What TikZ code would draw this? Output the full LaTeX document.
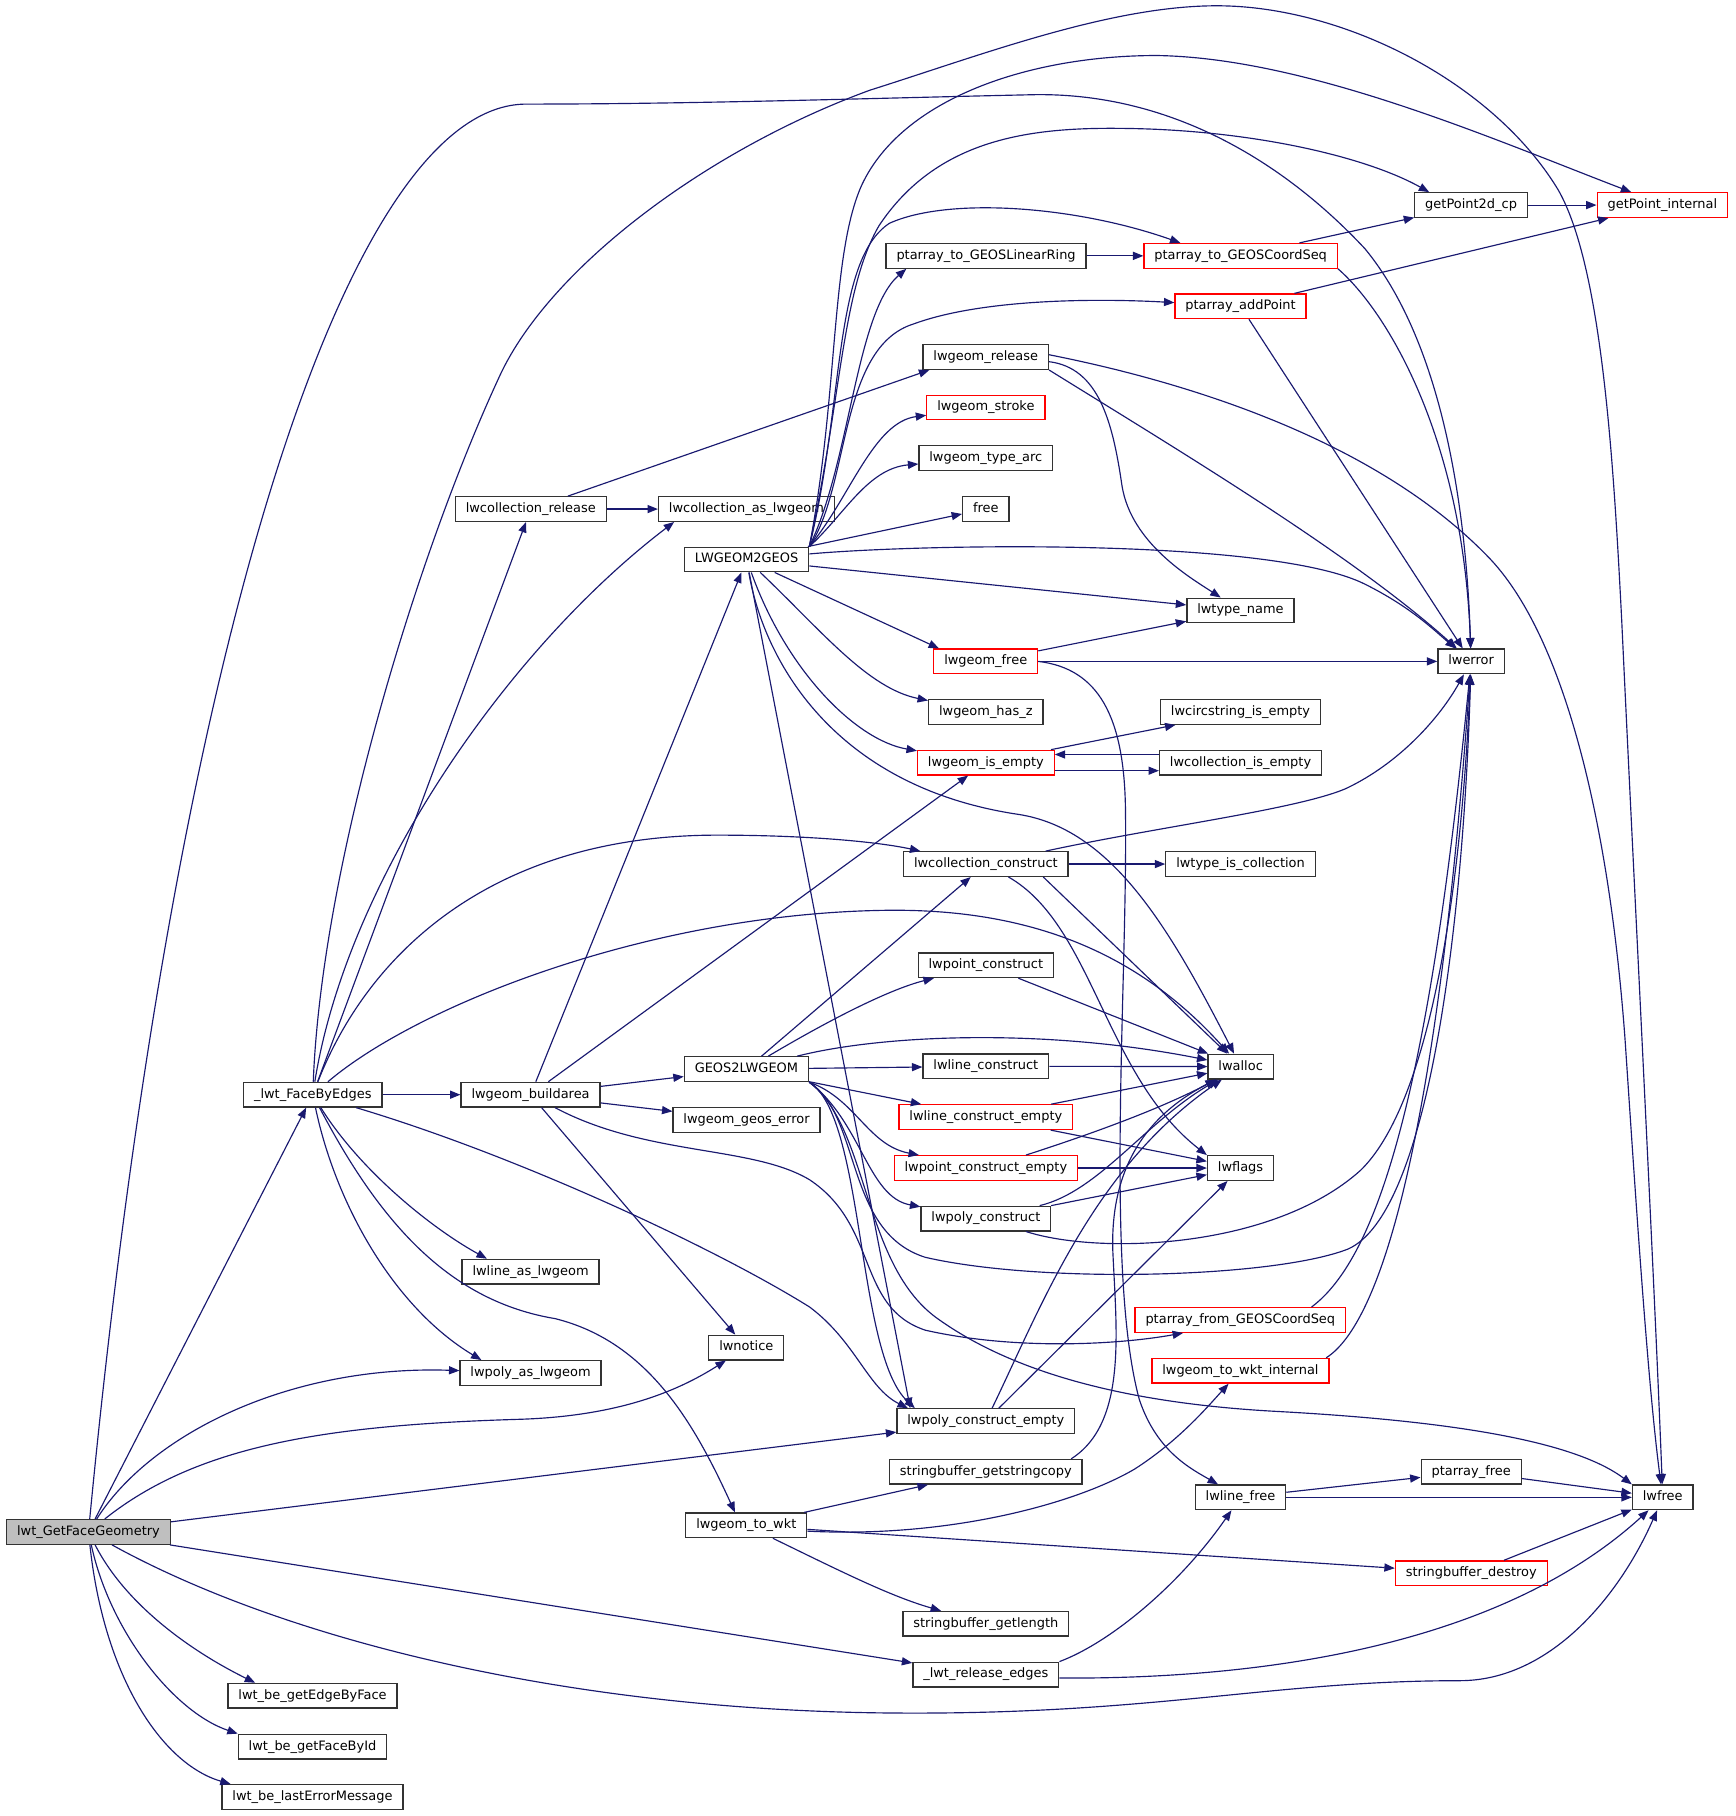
\documentclass[tikz,border=0pt]{standalone}
\usepackage{fontspec}
\setmainfont{DejaVu Sans}
\usetikzlibrary{arrows.meta}
\definecolor{navyblue}{HTML}{191970}
\definecolor{boxgray}{HTML}{BFBFBF}

\begin{document}
\begin{tikzpicture}[x=1pt,y=-1pt,>={Triangle[length=9pt,width=7pt]},
    fn/.style={rectangle,draw=black!80,line width=1.1pt,fill=white,inner xsep=9pt,inner ysep=5pt,
      text height=8.6pt,text depth=2.7pt,font=\fontsize{11.2pt}{13pt}\selectfont},
    fnred/.style={fn,draw=red},
    fnroot/.style={fn,fill=boxgray},
    wire/.style={draw=navyblue,line width=1pt},
    every edge/.style={wire}]

  \fill[white] (0,0) rectangle (1500,1570);
  \useasboundingbox (0,0) rectangle (1500,1570);

  \node[fnroot] (root)       at (76.5,1324.4)  {lwt\_GetFaceGeometry};
  \node[fn]     (fbe)        at (270.4,946.4)  {\_lwt\_FaceByEdges};
  \node[fn]     (edgebyface) at (270.2,1466)   {lwt\_be\_getEdgeByFace};
  \node[fn]     (facebyid)   at (270.2,1510)   {lwt\_be\_getFaceById};
  \node[fn]     (lasterr)    at (270.2,1553.6) {lwt\_be\_lastErrorMessage};
  \node[fn]     (colrel)     at (458.9,440.1)  {lwcollection\_release};
  \node[fn]     (buildarea)  at (458.7,946.4)  {lwgeom\_buildarea};
  \node[fn]     (lineas)     at (458.7,1099.4) {lwline\_as\_lwgeom};
  \node[fn]     (polyas)     at (458.7,1187)   {lwpoly\_as\_lwgeom};
  \node[fn]     (colas)      at (645.3,440.1)  {lwcollection\_as\_lwgeom};
  \node[fn]     (l2g)        at (645.5,483.7)  {LWGEOM2GEOS};
  \node[fn]     (g2l)        at (645.3,924.3)  {GEOS2LWGEOM};
  \node[fn]     (geoserr)    at (645.4,968.3)  {lwgeom\_geos\_error};
  \node[fn]     (notice)     at (645.2,1165)   {lwnotice};
  \node[fn]     (towkt)      at (645.2,1318.7) {lwgeom\_to\_wkt};
  \node[fn]     (ring)       at (852.5,221.2)  {ptarray\_to\_GEOSLinearRing};
  \node[fn]     (release)    at (852.2,308.7)  {lwgeom\_release};
  \node[fnred]  (stroke)     at (852.3,352.3)  {lwgeom\_stroke};
  \node[fn]     (typearc)    at (852.3,396)    {lwgeom\_type\_arc};
  \node[fn]     (free)       at (852.3,440)    {free};
  \node[fnred]  (geomfree)   at (852.2,571.8)  {lwgeom\_free};
  \node[fn]     (hasz)       at (852.3,615.7)  {lwgeom\_has\_z};
  \node[fnred]  (isempty)    at (852.3,659.3)  {lwgeom\_is\_empty};
  \node[fn]     (colcons)    at (852.3,747)    {lwcollection\_construct};
  \node[fn]     (ptcons)     at (852.3,834.5)  {lwpoint\_construct};
  \node[fn]     (linecons)   at (852.3,921.8)  {lwline\_construct};
  \node[fnred]  (lineempty)  at (852.3,965.8)  {lwline\_construct\_empty};
  \node[fnred]  (ptempty)    at (852.3,1009.8) {lwpoint\_construct\_empty};
  \node[fn]     (polycons)   at (852.3,1053.5) {lwpoly\_construct};
  \node[fn]     (polyempty)  at (852.3,1228.6) {lwpoly\_construct\_empty};
  \node[fn]     (sbcopy)     at (852.3,1272.4) {stringbuffer\_getstringcopy};
  \node[fn]     (sblen)      at (852.3,1403.8) {stringbuffer\_getlength};
  \node[fn]     (reledges)   at (852.3,1447.7) {\_lwt\_release\_edges};
  \node[fnred]  (coordseq)   at (1072.6,221.2) {ptarray\_to\_GEOSCoordSeq};
  \node[fnred]  (addpoint)   at (1072.5,264.8) {ptarray\_addPoint};
  \node[fn]     (typename)   at (1072.4,527.8) {lwtype\_name};
  \node[fn]     (circempty)  at (1072.5,615.5) {lwcircstring\_is\_empty};
  \node[fn]     (colempty)   at (1072.5,659.3) {lwcollection\_is\_empty};
  \node[fn]     (iscol)      at (1072.5,747)   {lwtype\_is\_collection};
  \node[fn]     (alloc)      at (1072.6,922.1) {lwalloc};
  \node[fn]     (flags)      at (1072.5,1009.8) {lwflags};
  \node[fnred]  (fromseq)    at (1072.3,1141.2) {ptarray\_from\_GEOSCoordSeq};
  \node[fnred]  (wktint)     at (1072.4,1185.1) {lwgeom\_to\_wkt\_internal};
  \node[fn]     (linefree)   at (1072.4,1294.5) {lwline\_free};
  \node[fn]     (p2d)        at (1271.8,177.3) {getPoint2d\_cp};
  \node[fn]     (error)      at (1271.8,571.8) {lwerror};
  \node[fn]     (ptfree)     at (1271.9,1272.4) {ptarray\_free};
  \node[fnred]  (sbdestroy)  at (1272,1360.1)  {stringbuffer\_destroy};
  \node[fnred]  (ptint)      at (1437.2,177.3) {getPoint\_internal};
  \node[fn]     (lwfree)     at (1437.5,1294.5) {lwfree};

  \path[->] (root) edge (fbe)
    (root) edge (polyempty)
    (root) edge (reledges)
    (fbe) edge (buildarea)
    (fbe) edge (colrel)
    (buildarea) edge (l2g)
    (buildarea) edge (isempty)
    (buildarea) edge (g2l)
    (buildarea) edge (geoserr)
    (buildarea) edge (notice)
    (colrel) edge (colas)
    (colrel) edge ([xshift=6pt]release.south west)
    (l2g) edge (free)
    (l2g) edge (typename)
    (l2g) edge ([xshift=5pt]geomfree.north west)
    (l2g) edge ([xshift=12pt]polyempty.north west)
    (g2l) edge (colcons)
    (g2l) edge (linecons)
    (g2l) edge (lineempty)
    (colcons) edge (iscol)
    ([xshift=-22pt]colcons.south east) edge (alloc)
    (ptcons) edge (alloc)
    (linecons) edge (alloc)
    (lineempty) edge (alloc)
    (lineempty) edge (flags)
    (ptempty) edge (flags)
    (polycons) edge (flags)
    (polyempty) edge (flags)
    ([yshift=-7pt]isempty.east) edge ([yshift=-7pt]colempty.west)
    ([yshift=7pt]colempty.west) edge ([yshift=7pt]isempty.east)
    (isempty) edge (circempty)
    (geomfree) edge (typename)
    (geomfree) edge (error)
    (ring) edge (coordseq)
    (coordseq) edge (p2d)
    (p2d) edge (ptint)
    (addpoint) edge (ptint)
    (addpoint) edge (error)
    (towkt) edge (sbcopy)
    (towkt) edge (sbdestroy)
    (linefree) edge (ptfree)
    (linefree) edge (lwfree)
    (ptfree) edge (lwfree)
    (sbdestroy) edge (lwfree);

  \draw[->,wire] (root) .. controls (150,560) and (300,90) .. (455,90)
    .. controls (600,90) and (750,85) .. (888,82)
    .. controls (1010,78) and (1110,140) .. (1180,215)
    .. controls (1250,300) and (1268,450) .. (error);
  \draw[->,wire] (root) .. controls (130,1240) and (250,1180) .. (polyas);
  \draw[->,wire] (root) .. controls (170,1250) and (280,1232) .. (450,1227)
    .. controls (540,1224) and (590,1200) .. (notice);
  \draw[->,wire] (root) .. controls (250,1420) and (500,1480) .. (780,1481)
    .. controls (1000,1482) and (1100,1453) .. (1262,1453)
    .. controls (1340,1453) and (1400,1380) .. (lwfree);
  \draw[->,wire] (root) .. controls (110,1390) and (170,1430) .. ([xshift=24pt]edgebyface.north west);
  \draw[->,wire] (root) .. controls (95,1410) and (150,1480) .. (facebyid.north west);
  \draw[->,wire] (root) .. controls (90,1450) and (140,1525) .. ([xshift=8pt]lasterr.north west);

  \draw[->,wire] (fbe) .. controls (300,760) and (440,560) .. ([xshift=14pt]colas.south west);
  \draw[->,wire] (fbe) .. controls (320,820) and (430,722) .. (620,722)
    .. controls (700,722) and (760,728) .. ([xshift=15pt]colcons.north west);
  \draw[->,wire] (fbe) .. controls (360,870) and (560,790) .. (765,787)
    .. controls (900,785) and (990,830) .. (alloc);
  \draw[->,wire] (fbe) .. controls (278,750) and (360,480) .. (432,325)
    .. controls (475,232) and (610,130) .. (752,78)
    .. controls (850,47) and (960,5) .. (1052,5)
    .. controls (1160,5) and (1290,70) .. (1347,164)
    .. controls (1385,230) and (1395,400) .. (1402,536)
    .. controls (1412,750) and (1430,1100) .. (lwfree);
  \draw[->,wire] (fbe) .. controls (310,1010) and (370,1060) .. ([xshift=22pt]lineas.north west);
  \draw[->,wire] (fbe) .. controls (290,1040) and (340,1130) .. ([xshift=19pt]polyas.north west);
  \draw[->,wire] (fbe) .. controls (330,1060) and (390,1125) .. (480,1140)
    .. controls (560,1160) and (600,1230) .. ([xshift=43pt]towkt.north west);
  \draw[->,wire] (fbe) .. controls (450,1000) and (620,1080) .. (700,1130)
    .. controls (740,1160) and (750,1200) .. ([xshift=10pt]polyempty.north west);

  \draw[->,wire] (buildarea) .. controls (560,1000) and (650,990) .. (700,1020)
    .. controls (760,1060) and (740,1130) .. (800,1150)
    .. controls (880,1168) and (970,1162) .. ([xshift=42pt]fromseq.south west);

  \draw[->,wire] (l2g.north east) .. controls (730,445) and (750,405) .. (typearc);
  \draw[->,wire] (l2g.north east) .. controls (735,430) and (755,365) .. (stroke);
  \draw[->,wire] (l2g.north east) .. controls (735,420) and (725,300) .. (790,280)
    .. controls (850,258) and (950,258) .. (addpoint);
  \draw[->,wire] (l2g.north east) .. controls (735,400) and (740,270) .. ([xshift=18pt]ring.south west);
  \draw[->,wire] (l2g.north east) .. controls (730,350) and (720,225) .. (769,193)
    .. controls (820,170) and (930,178) .. ([xshift=32pt]coordseq.north west);
  \draw[->,wire] (l2g.north east) .. controls (728,340) and (728,250) .. (760,195)
    .. controls (810,120) and (890,110) .. (970,111)
    .. controls (1080,112) and (1180,135) .. ([xshift=13pt]p2d.north west);
  \draw[->,wire] (l2g.north east) .. controls (725,340) and (718,220) .. (745,160)
    .. controls (780,85) and (890,48) .. (1000,48)
    .. controls (1130,50) and (1290,120) .. ([xshift=30pt]ptint.north west);
  \draw[->,wire] (l2g) .. controls (800,470) and (1100,465) .. (1180,505)
    .. controls (1220,525) and (1240,545) .. (error);
  \draw[->,wire] (l2g) .. controls (710,545) and (750,595) .. (hasz);
  \draw[->,wire] (l2g) .. controls (680,580) and (740,640) .. (isempty);
  \draw[->,wire] (l2g) .. controls (660,570) and (720,680) .. (880,704)
    .. controls (960,716) and (1010,800) .. (alloc);

  \draw[->,wire] (g2l) .. controls (720,880) and (770,855) .. (ptcons);
  \draw[->,wire] (g2l) .. controls (760,895) and (900,888) .. (alloc);
  \draw[->,wire] (g2l.south east) .. controls (740,950) and (750,990) .. (ptempty);
  \draw[->,wire] (g2l.south east) .. controls (745,970) and (750,1035) .. (polycons);
  \draw[->,wire] (g2l.south east) .. controls (748,965) and (740,1170) .. ([xshift=16pt]polyempty.north west);
  \draw[->,wire] (g2l.south east) .. controls (745,965) and (730,1065) .. (800,1087)
    .. controls (900,1110) and (1100,1105) .. (1165,1080)
    .. controls (1235,1050) and (1265,800) .. (error);
  \draw[->,wire] (g2l.south east) .. controls (752,975) and (745,1095) .. (812,1141)
    .. controls (870,1182) and (960,1212) .. (1100,1220)
    .. controls (1250,1228) and (1360,1245) .. (lwfree.north west);

  \draw[->,wire] ([yshift=-4pt]release.east) .. controls (950,318) and (962,365) .. (970,420)
    .. controls (978,470) and (1030,500) .. (typename);
  \draw[->,wire] (release.south east) .. controls (1020,390) and (1170,480) .. (error);
  \draw[->,wire] ([yshift=2pt]release.east) .. controls (1050,335) and (1200,390) .. (1289,484)
    .. controls (1355,555) and (1392,720) .. (1405,900)
    .. controls (1415,1050) and (1425,1200) .. (lwfree);
  \draw[->,wire] (coordseq.south east) .. controls (1200,270) and (1265,380) .. (error);

  \draw[->,wire] (colcons) .. controls (1000,715) and (1120,700) .. (1163,682)
    .. controls (1210,660) and (1245,620) .. (error);
  \draw[->,wire] (colcons) .. controls (945,800) and (955,930) .. (flags.north west);
  \draw[->,wire] (ptempty) .. controls (960,975) and (1010,955) .. (alloc);
  \draw[->,wire] (polycons) .. controls (950,1030) and (990,970) .. (alloc);
  \draw[->,wire] (polycons) .. controls (950,1085) and (1100,1080) .. (1176,1012)
    .. controls (1230,960) and (1262,800) .. (error);
  \draw[->,wire] (polyempty) .. controls (900,1130) and (945,1010) .. (alloc);
  \draw[->,wire] ([xshift=-10pt]sbcopy.north east) .. controls (975,1230) and (965,1150) .. (962,1080)
    .. controls (960,1000) and (1000,960) .. (alloc);
  \draw[->,wire] ([xshift=-30pt]fromseq.north east) .. controls (1190,1088) and (1235,950) .. (error);
  \draw[->,wire] ([xshift=-3pt]wktint.north east) .. controls (1200,1140) and (1245,950) .. (error);
  \draw[->,wire] (geomfree.east) .. controls (950,578) and (972,620) .. (973,700)
    .. controls (975,850) and (955,1100) .. (985,1210)
    .. controls (1000,1255) and (1030,1270) .. (linefree);

  \draw[->,wire] ([yshift=-5pt]towkt.east) .. controls (820,1330) and (930,1300) .. (981,1270)
    .. controls (1020,1245) and (1045,1215) .. (wktint);
  \draw[->,wire] (towkt) .. controls (730,1360) and (770,1380) .. (sblen);
  \draw[->,wire] (reledges.north east) .. controls (960,1420) and (1020,1370) .. (linefree);
  \draw[->,wire] ([yshift=-3pt]reledges.east) .. controls (1100,1452) and (1300,1420) .. (lwfree);

\end{tikzpicture}
\end{document}
